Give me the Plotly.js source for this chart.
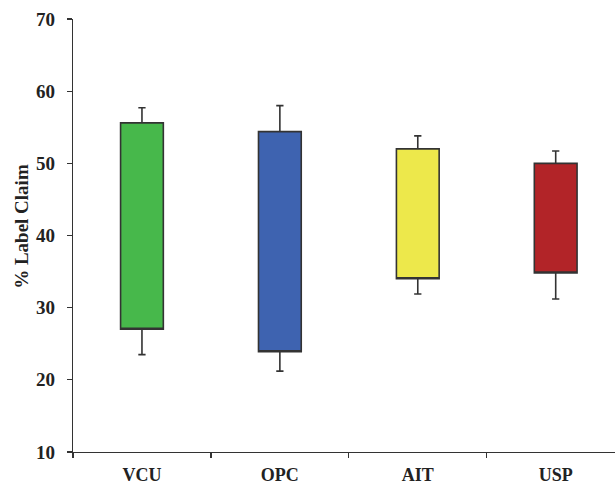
<!DOCTYPE html>
<html>
<head>
<meta charset="utf-8">
<script src="https://cdn.plot.ly/plotly-3.0.1.min.js"></script>
<style>html,body{margin:0;padding:0;background:#fff;}#chart{width:615px;height:486px;}</style>
</head>
<body>
<div id="chart"></div>
<script>
const categories = ["VCU", "OPC", "AIT", "USP"];
const whiskerLow = [23.5, 21.2, 31.9, 31.2];
const boxLow = [27.0, 23.9, 34.0, 34.8];
const boxHigh = [55.6, 54.4, 52.0, 50.0];
const whiskerHigh = [57.7, 58.0, 53.8, 51.7];
const colors = ["#47b84b", "#3e63b0", "#ede84b", "#b22428"];
const yTicks = [10, 20, 30, 40, 50, 60, 70];

const lineCol = "#333333";
const fontFam = "Liberation Serif, Times New Roman, serif";

const traces = categories.map((c, i) => ({
  type: "box",
  x: [c],
  q1: [boxLow[i]],
  median: [boxLow[i]],
  q3: [boxHigh[i]],
  lowerfence: [whiskerLow[i]],
  upperfence: [whiskerHigh[i]],
  width: 0.31,
  whiskerwidth: 0.17,
  fillcolor: colors[i],
  line: {color: lineCol, width: 1.6},
  boxpoints: false,
  hoverinfo: "skip",
  showlegend: false
}));

const layout = {
  width: 615, height: 486,
  margin: {l: 73, r: 0, t: 19, b: 34},
  paper_bgcolor: "#fff", plot_bgcolor: "#fff",
  boxmode: "overlay",
  xaxis: {
    type: "category",
    categoryorder: "array",
    categoryarray: categories,
    range: [-0.5, 3.43],
    tickson: "boundaries",
    ticks: "outside", ticklen: 5, tickwidth: 1.3, tickcolor: lineCol,
    showline: true, linecolor: lineCol, linewidth: 1.3,
    showgrid: false, zeroline: false,
    tickfont: {family: fontFam, size: 18, weight: "bold", color: "#222"},
    ticklabelstandoff: 6
  },
  yaxis: {
    range: [10, 70],
    tickvals: yTicks,
    ticks: "outside", ticklen: 5, tickwidth: 1.3, tickcolor: lineCol,
    showline: true, linecolor: lineCol, linewidth: 1.3,
    showgrid: false, zeroline: false,
    tickfont: {family: fontFam, size: 19, weight: "bold", color: "#222"},
    ticklabelstandoff: 8
  },
  annotations: [{
    text: "% Label Claim",
    textangle: -90,
    xref: "paper", yref: "paper",
    x: 0, xshift: -51, y: 0.52,
    xanchor: "center", yanchor: "middle",
    showarrow: false,
    font: {family: fontFam, size: 19, weight: "bold", color: "#222"}
  }]
};

Plotly.newPlot("chart", traces, layout, {displayModeBar: false, staticPlot: true});
</script>
</body>
</html>
